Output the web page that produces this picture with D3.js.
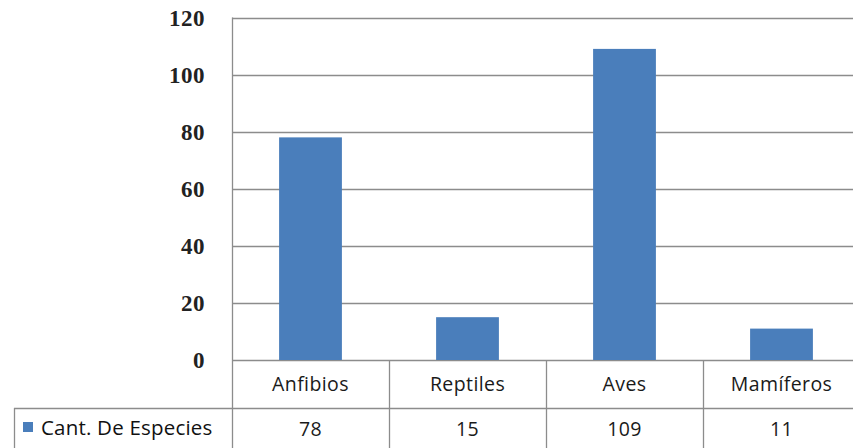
<!DOCTYPE html>
<html>
<head>
<meta charset="utf-8">
<script src="https://cdn.jsdelivr.net/npm/d3@7"></script>
<style>
  body { margin: 0; background: #fff; }
  svg { display: block; }
</style>
</head>
<body>
<svg id="chart" width="853" height="448"></svg>
<script>
var categories = ["Anfibios", "Reptiles", "Aves", "Mamíferos"];
var values = [78, 15, 109, 11];
var seriesName = "Cant. De Especies";
var yTicks = [0, 20, 40, 60, 80, 100, 120];

var chartW = 853, chartH = 448,
    plotLeft = 232, plotRight = 860, plotTop = 17.5, plotBottom = 360,
    rowH = 48, tableLeft = 14;

var svg = d3.select('#chart');

var x = d3.scaleBand()
    .domain(categories)
    .range([plotLeft, plotRight])
    .padding(0);

var y = d3.scaleLinear()
    .domain([0, 120])
    .range([plotBottom, plotTop]);

// gridlines
svg.append('g')
    .selectAll('line')
    .data(yTicks)
    .enter()
    .append('line')
    .attr('x1', plotLeft)
    .attr('x2', plotRight)
    .attr('y1', d => Math.round(y(d)) + 0.5)
    .attr('y2', d => Math.round(y(d)) + 0.5)
    .style('stroke', '#8c8c8c')
    .style('stroke-width', 1.3);

// y tick labels
svg.append('g')
    .selectAll('text')
    .data(yTicks)
    .enter()
    .append('text')
    .attr('x', 205)
    .attr('y', d => y(d))
    .attr('dy', '0.35em')
    .attr('text-anchor', 'end')
    .style('font-family', '"Liberation Serif", serif')
    .style('font-weight', 'bold')
    .style('font-size', '23px')
    .style('letter-spacing', '0.5px')
    .style('fill', '#222')
    .text(d => d);

// bars
var barW = x.bandwidth() * 0.4;
svg.append('g')
    .selectAll('rect')
    .data(values)
    .enter()
    .append('rect')
    .attr('x', (d, i) => x(categories[i]) + (x.bandwidth() - barW) / 2)
    .attr('y', d => y(d))
    .attr('width', barW)
    .attr('height', d => plotBottom - y(d))
    .style('fill', '#4a7ebb');

// data table lines
var grid = svg.append('g').style('stroke', '#8c8c8c').style('stroke-width', 1.3);

grid.append('line')
    .attr('x1', plotLeft + 0.5).attr('x2', plotLeft + 0.5)
    .attr('y1', plotTop).attr('y2', chartH);

grid.append('line')
    .attr('x1', tableLeft).attr('x2', plotRight)
    .attr('y1', plotBottom + rowH + 0.5).attr('y2', plotBottom + rowH + 0.5);

grid.append('line')
    .attr('x1', tableLeft + 0.5).attr('x2', tableLeft + 0.5)
    .attr('y1', plotBottom + rowH).attr('y2', chartH);

grid.selectAll('.sep')
    .data(categories.slice(1))
    .enter()
    .append('line')
    .attr('class', 'sep')
    .attr('x1', d => Math.round(x(d)) + 0.5)
    .attr('x2', d => Math.round(x(d)) + 0.5)
    .attr('y1', plotBottom)
    .attr('y2', chartH);

var labelFont = '"Open Sans", "Liberation Sans", sans-serif';

// category header row
svg.append('g')
    .selectAll('text')
    .data(categories)
    .enter()
    .append('text')
    .attr('x', d => x(d) + x.bandwidth() / 2)
    .attr('y', plotBottom + 24)
    .attr('dy', '0.35em')
    .attr('text-anchor', 'middle')
    .style('font-family', labelFont)
    .style('font-size', '19.5px')
    .style('letter-spacing', '0.4px')
    .style('fill', '#1a1a1a')
    .text(d => d);

// value row
svg.append('g')
    .selectAll('text')
    .data(values)
    .enter()
    .append('text')
    .attr('x', (d, i) => x(categories[i]) + x.bandwidth() / 2)
    .attr('y', plotBottom + rowH + 21)
    .attr('dy', '0.35em')
    .attr('text-anchor', 'middle')
    .style('font-family', labelFont)
    .style('font-size', '19.5px')
    .style('letter-spacing', '0.4px')
    .style('fill', '#1a1a1a')
    .text(d => d);

// legend key in the table
svg.append('rect')
    .attr('x', 23)
    .attr('y', plotBottom + rowH + 14)
    .attr('width', 10)
    .attr('height', 10)
    .style('fill', '#4a7ebb');

svg.append('text')
    .attr('x', 41)
    .attr('y', plotBottom + rowH + 20)
    .attr('dy', '0.35em')
    .style('font-family', labelFont)
    .style('font-size', '20.5px')
    .style('letter-spacing', '0.2px')
    .style('fill', '#111')
    .text(seriesName);
</script>
</body>
</html>
